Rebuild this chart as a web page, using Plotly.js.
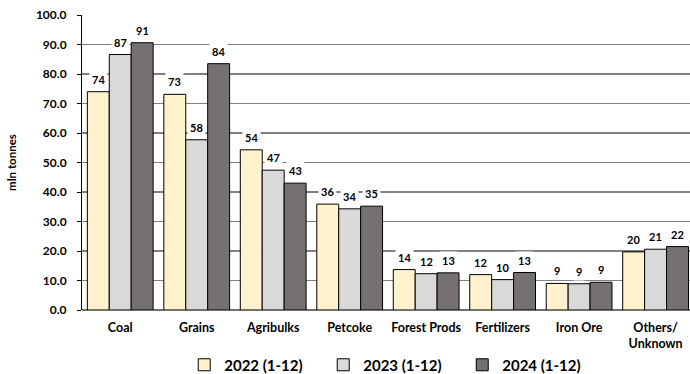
<!DOCTYPE html>
<html>
<head>
<meta charset="utf-8">
<script src="https://cdn.plot.ly/plotly-3.0.1.min.js"></script>
<style>html,body{margin:0;padding:0;background:#fff;}#chart{width:690px;height:374px;}</style>
</head>
<body>
<div id="chart"></div>
<script>
const categories = ["Coal", "Grains", "Agribulks", "Petcoke", "Forest Prods", "Fertilizers", "Iron Ore", "Others/<br>Unknown"];
const seriesNames = ["2022 (1-12)", "2023 (1-12)", "2024 (1-12)"];
const values2022 = [74.0, 73.1, 54.3, 35.9, 13.7, 12.0, 9.0, 19.7];
const values2023 = [86.6, 57.7, 47.4, 34.3, 12.3, 10.3, 8.9, 20.6];
const values2024 = [90.6, 83.5, 43.0, 35.2, 12.6, 12.7, 9.4, 21.5];
const yTicks = [0, 10, 20, 30, 40, 50, 60, 70, 80, 90, 100];

const colors = ["#FFF2CC", "#D9D9D9", "#767171"];
const allValues = [values2022, values2023, values2024];
const FONT = "Lato, 'Open Sans', sans-serif";

const traces = allValues.map((vals, i) => ({
  type: "bar",
  name: seriesNames[i],
  x: categories,
  y: vals,
  marker: {color: colors[i], line: {color: "#000", width: 1}},
  hoverinfo: "none"
}));

const barPx = 22;
const annotations = [];
allValues.forEach((vals, i) => {
  vals.forEach((v, j) => {
    annotations.push({
      x: categories[j], y: v, xref: "x", yref: "y",
      text: Math.round(v).toString(),
      showarrow: false, yanchor: "bottom", xanchor: "center",
      xshift: (i - 1) * barPx, yshift: 3,
      bgcolor: "#ffffff", borderpad: 2,
      font: {family: FONT, size: 11, color: "#000", weight: 700}
    });
  });
});

const layout = {
  width: 690, height: 374,
  margin: {l: 82, r: 0, t: 15, b: 64},
  paper_bgcolor: "#fff", plot_bgcolor: "#fff",
  barmode: "group", bargap: 0.14, bargroupgap: 0,
  font: {family: FONT, size: 12, color: "#000", weight: 700},
  xaxis: {
    range: [-0.5, 7.45], showgrid: false, ticks: "", showline: false,
    tickfont: {family: FONT, size: 12.5, color: "#000", weight: 700},
    ticklabelstandoff: 8, fixedrange: true
  },
  yaxis: {
    range: [0, 100], tickvals: yTicks, ticktext: yTicks.map(v => v.toFixed(1)),
    showgrid: true, gridcolor: "#808080", gridwidth: 1.5,
    zeroline: true, zerolinecolor: "#707070", zerolinewidth: 2,
    showline: true, linecolor: "#000", linewidth: 1,
    ticks: "outside", ticklen: 4, tickcolor: "#000",
    ticklabelstandoff: 8,
    tickfont: {family: FONT, size: 12, color: "#000", weight: 700},
    title: {text: "mln tonnes", font: {family: FONT, size: 11.5, color: "#000", weight: 700}, standoff: 16},
    fixedrange: true
  },
  showlegend: true,
  legend: {
    orientation: "h", xref: "container", x: 0.267, xanchor: "left",
    yref: "container", y: 0.024, yanchor: "middle",
    font: {family: FONT, size: 15, color: "#000", weight: 700},
    entrywidth: 94, itemwidth: 30, traceorder: "normal"
  },
  annotations: annotations
};

Plotly.newPlot("chart", traces, layout, {displayModeBar: false, staticPlot: true});
</script>
</body>
</html>
